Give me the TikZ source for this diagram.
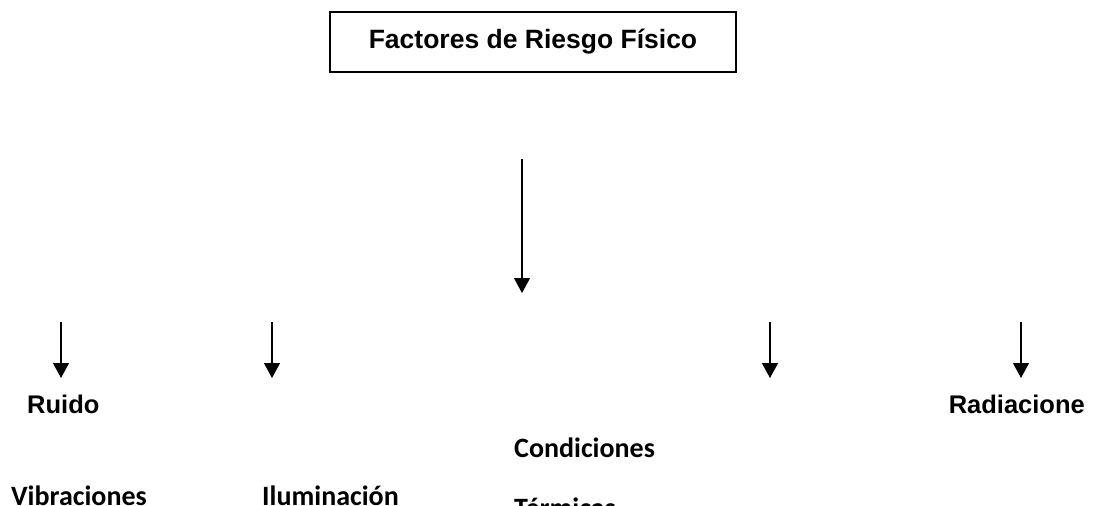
\documentclass[tikz,border=0pt]{standalone}
\usepackage{fontspec}
\newfontfamily\arialfont{Liberation Sans}
\newfontfamily\calibfont{Carlito}
\usetikzlibrary{arrows.meta}
\tikzset{
  arr/.style={line width=1.3pt, -{Triangle[length=15pt,width=16pt]}},
  atext/.style={font=\arialfont\bfseries\fontsize{25.5}{30}\selectfont, inner sep=0pt},
  ctext/.style={font=\calibfont\bfseries\fontsize{28}{34}\selectfont, inner sep=0pt}
}
\begin{document}
\begin{tikzpicture}[x=1pt,y=-1pt]
\useasboundingbox (0,0) rectangle (1093,506);
\clip (0,0) rectangle (1093,506);
\node[draw, line width=1.3pt, minimum width=406pt, minimum height=60pt, font=\arialfont\bfseries\fontsize{26.5}{32}\selectfont] (title) at (533,42){Factores de Riesgo Físico};
\coordinate (c0) at (522,159);
\coordinate (t0) at (522,293);
\coordinate (c1) at (61,322);
\coordinate (t1) at (61,378);
\coordinate (c2) at (272,322);
\coordinate (t2) at (272,378);
\coordinate (c3) at (770,322);
\coordinate (t3) at (770,378);
\coordinate (c4) at (1021,322);
\coordinate (t4) at (1021,378);
\draw[arr](c0) -- (t0);
\draw[arr](c1) -- (t1);
\draw[arr](c2) -- (t2);
\draw[arr](c3) -- (t3);
\draw[arr](c4) -- (t4);
\node[atext, anchor=base west] (ruido) at (27,413){Ruido};
\node[atext, anchor=base east] (radia) at (1085,413){Radiacione};
\node[ctext, anchor=base west] (cond) at (514,457){Condiciones};
\node[ctext, anchor=base west] (term) at (514,517){Térmicas};
\node[ctext, anchor=base west] (vibra) at (11,505){Vibraciones};
\node[ctext, anchor=base west] (ilum) at (262,505){Iluminación};
\end{tikzpicture}
\end{document}
